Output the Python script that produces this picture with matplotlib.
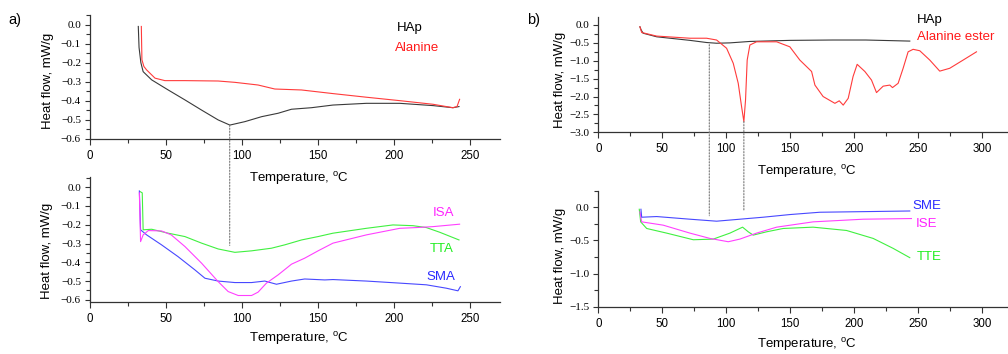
import matplotlib
matplotlib.use("Agg")
import matplotlib.pyplot as plt
from matplotlib.ticker import MultipleLocator, FuncFormatter
from matplotlib.patches import ConnectionPatch

plt.rcParams['font.family'] = ['Liberation Sans', 'DejaVu Sans']
plt.rcParams['mathtext.fontset'] = 'custom'
plt.rcParams['mathtext.rm'] = 'Liberation Sans'

# ---------------- data: panel a) top ----------------
hap_a_T = [31.8, 32.3, 33.5, 35.0, 40.6, 51.5, 62.5, 73.4, 84.4, 92.1, 102.0, 113.0, 123.9,
           132.7, 145.8, 160.0, 182.0, 204.0, 226.0, 239.0, 243.0]
hap_a_V = [-0.01, -0.12, -0.20, -0.247, -0.29, -0.343, -0.395, -0.448, -0.50, -0.527, -0.509,
           -0.483, -0.465, -0.444, -0.436, -0.422, -0.413, -0.413, -0.425, -0.436, -0.43]
ala_T = [33.8, 34.0, 34.2, 35.5, 37.3, 42.8, 49.3, 62.5, 84.4, 95.4, 110.7, 121.7, 139.3,
         160.0, 182.0, 204.0, 225.9, 239.0, 241.7, 243.4]
ala_V = [-0.01, -0.10, -0.185, -0.22, -0.238, -0.281, -0.294, -0.294, -0.296, -0.303, -0.317,
         -0.338, -0.343, -0.362, -0.381, -0.399, -0.418, -0.436, -0.43, -0.392]

# ---------------- data: panel a) bottom ----------------
isa_T = [32.5, 33.3, 35.0, 38.4, 47.1, 53.5, 62.5, 73.5, 84.4, 91.0, 97.6, 106.4, 110.7,
         116.2, 123.9, 132.7, 141.4, 150.2, 160.0, 182.0, 204.0, 215.0, 225.9, 243.4]
isa_V = [-0.03, -0.29, -0.254, -0.231, -0.233, -0.254, -0.316, -0.405, -0.503, -0.556, -0.577,
         -0.577, -0.559, -0.511, -0.467, -0.41, -0.378, -0.339, -0.298, -0.254, -0.219, -0.215,
         -0.21, -0.197]
tta_T = [32.9, 34.4, 35.0, 40.6, 51.5, 62.5, 73.5, 84.4, 95.4, 106.4, 119.5, 128.3, 139.3,
         150.2, 160.0, 182.0, 199.5, 212.7, 221.5, 230.3, 243.0]
tta_V = [-0.023, -0.03, -0.227, -0.224, -0.245, -0.263, -0.298, -0.329, -0.347, -0.339, -0.325,
         -0.307, -0.281, -0.263, -0.245, -0.219, -0.201, -0.205, -0.215, -0.24, -0.281]
sma_T = [32.5, 33.3, 37.3, 47.1, 58.0, 69.0, 75.7, 84.4, 95.4, 106.4, 115.1, 122.8, 132.7,
         141.4, 154.6, 160.0, 182.0, 204.0, 221.5, 234.6, 242.3, 243.9]
sma_V = [-0.02, -0.227, -0.254, -0.307, -0.37, -0.44, -0.485, -0.50, -0.508, -0.508, -0.50,
         -0.517, -0.50, -0.489, -0.494, -0.492, -0.50, -0.511, -0.52, -0.538, -0.552, -0.53]

# ---------------- data: panel b) top ----------------
hap_b_T = [32.5, 33.5, 35.0, 45.6, 71.6, 84.6, 92.4, 102.8, 118.4, 149.6, 183.0, 209.0, 243.3]
hap_b_V = [-0.05, -0.14, -0.23, -0.33, -0.43, -0.49, -0.51, -0.50, -0.46, -0.43, -0.42, -0.42, -0.45]
est_T = [32.5, 33.9, 45.6, 71.6, 84.6, 92.4, 100.2, 105.4, 109.3, 111.9, 113.7, 115.0, 116.3,
         118.4, 123.6, 139.3, 149.6, 157.4, 166.6, 169.2, 175.6, 184.8, 188.2, 191.3, 195.2,
         199.0, 202.2, 208.2, 213.4, 217.3, 222.5, 227.7, 229.8, 234.2, 238.1, 242.0, 245.9,
         251.1, 258.9, 266.7, 274.5, 285.0, 295.4]
est_V = [-0.05, -0.21, -0.31, -0.37, -0.37, -0.42, -0.65, -1.07, -1.63, -2.28, -2.70, -2.10,
         -0.98, -0.56, -0.47, -0.47, -0.61, -0.98, -1.30, -1.68, -2.0, -2.19, -2.12, -2.24,
         -2.05, -1.44, -1.10, -1.30, -1.54, -1.89, -1.71, -1.68, -1.75, -1.63, -1.21, -0.75,
         -0.68, -0.72, -0.98, -1.29, -1.21, -0.98, -0.75]

# ---------------- data: panel b) bottom ----------------
sme_T = [33.3, 33.9, 45.6, 71.6, 92.4, 110.6, 128.8, 149.6, 173.0, 206.9, 243.3]
sme_V = [-0.03, -0.15, -0.14, -0.18, -0.21, -0.18, -0.15, -0.11, -0.075, -0.066, -0.056]
ise_T = [32.5, 33.9, 50.7, 71.6, 87.2, 101.5, 110.6, 123.6, 139.3, 167.8, 206.9, 244.6]
ise_V = [-0.07, -0.22, -0.27, -0.39, -0.47, -0.52, -0.48, -0.39, -0.30, -0.22, -0.18, -0.17]
tte_T = [32.0, 33.1, 37.8, 53.4, 74.2, 89.8, 102.8, 112.7, 117.1, 121.0, 131.5, 144.4, 167.8,
         193.9, 214.7, 230.3, 243.3]
tte_V = [-0.03, -0.22, -0.32, -0.39, -0.49, -0.48, -0.39, -0.30, -0.37, -0.42, -0.37, -0.32,
         -0.30, -0.35, -0.47, -0.62, -0.76]

C_HAP = '#3a3a3a'
C_RED = '#ff3b3b'
C_MAG = '#ff40ff'
C_GRN = '#40f040'
C_BLU = '#4848ff'

W, H = 1008, 354
fig = plt.figure(figsize=(W / 100, H / 100), dpi=100)


def yfmt(v, pos):
    s = '%.1f' % v
    if s == '-0.0':
        s = '0.0'
    return s.replace('-', '\u2212')


def make_ax(left, right, bottom, top, xlim, ylim, ymaj, ymin):
    ax = fig.add_axes([left / W, 1 - bottom / H, (right - left) / W, (bottom - top) / H])
    ax.patch.set_alpha(0)
    ax.set_xlim(*xlim)
    ax.set_ylim(*ylim)
    for s in ('top', 'right'):
        ax.spines[s].set_visible(False)
    for s in ('left', 'bottom'):
        ax.spines[s].set_color('#333333')
        ax.spines[s].set_linewidth(0.9)
    ax.xaxis.set_major_locator(MultipleLocator(50))
    ax.xaxis.set_minor_locator(MultipleLocator(25))
    ax.yaxis.set_major_locator(MultipleLocator(ymaj))
    ax.yaxis.set_minor_locator(MultipleLocator(ymin))
    ax.yaxis.set_major_formatter(FuncFormatter(yfmt))
    ax.tick_params(axis='x', which='major', direction='out', length=4, width=0.8,
                   color='#333333', labelsize=8.3, pad=4)
    ax.tick_params(axis='x', which='minor', direction='out', length=3, width=0.8, color='#333333')
    ax.tick_params(axis='y', which='major', direction='out', length=3.5, width=0.8,
                   color='#333333', labelsize=8, pad=3, labelfontfamily='Liberation Serif')
    ax.tick_params(axis='y', which='minor', direction='out', length=3, width=0.8, color='#333333')
    return ax


def labels(ax, xl_y, yl_x, yl_y):
    ax.set_xlabel(r'Temperature, $^{\rm o}$C', fontsize=9.5)
    ax.xaxis.set_label_coords(0.51, xl_y)
    ax.xaxis.label.set_va('center')
    ax.set_ylabel('Heat flow, mW/g', fontsize=9.5)
    ax.yaxis.set_label_coords(yl_x, yl_y)
    ax.yaxis.label.set_va('center')


lw = 0.8
# a) top
ax1 = make_ax(90, 500, 139, 15, (0, 270), (-0.6, 0.05), 0.1, 0.05)
ax1.plot(hap_a_T, hap_a_V, color=C_HAP, lw=lw)
ax1.plot(ala_T, ala_V, color=C_RED, lw=lw)
ax1.text(202, -0.02, 'HAp', color='black', fontsize=9.5, va='center')
ax1.text(201, -0.125, 'Alanine', color='#ff1a1a', fontsize=9.5, va='center')
labels(ax1, -0.315, -0.102, 0.468)

# a) bottom
ax2 = make_ax(90, 500, 301.7, 176.7, (0, 270), (-0.61, 0.056), 0.1, 0.05)
ax2.plot(tta_T, tta_V, color=C_GRN, lw=lw)
ax2.plot(sma_T, sma_V, color=C_BLU, lw=lw)
ax2.plot(isa_T, isa_V, color=C_MAG, lw=lw)
ax2.text(225.7, -0.137, 'ISA', color='#ff22ff', fontsize=9.5, va='center')
ax2.text(223.7, -0.329, 'TTA', color='#22ee22', fontsize=9.5, va='center')
ax2.text(221.7, -0.478, 'SMA', color='#2a2aff', fontsize=9.5, va='center')
labels(ax2, -0.298, -0.105, 0.41)

# b) top
ax3 = make_ax(598.3, 1006.7, 132.3, 17.3, (0, 319), (-3.0, 0.215), 0.5, 0.25)
ax3.plot(hap_b_T, hap_b_V, color=C_HAP, lw=lw)
ax3.plot(est_T, est_V, color=C_RED, lw=lw)
ax3.text(248.8, 0.14, 'HAp', color='black', fontsize=9.5, va='center')
ax3.text(248.8, -0.34, 'Alanine ester', color='#ff1a1a', fontsize=9.5, va='center')
labels(ax3, -0.345, -0.094, 0.455)

# b) bottom
ax4 = make_ax(598.3, 1006.7, 306.7, 190.7, (0, 319), (-1.5, 0.25), 0.5, 0.25)
ax4.plot(tte_T, tte_V, color=C_GRN, lw=lw)
ax4.plot(ise_T, ise_V, color=C_MAG, lw=lw)
ax4.plot(sme_T, sme_V, color=C_BLU, lw=lw)
ax4.text(245.6, 0.024, 'SME', color='#2a2aff', fontsize=9.5, va='center')
ax4.text(248.0, -0.256, 'ISE', color='#ff22ff', fontsize=9.5, va='center')
ax4.text(249.0, -0.754, 'TTE', color='#22ee22', fontsize=9.5, va='center')
labels(ax4, -0.33, -0.094, 0.44)

# dotted guide lines across panels
guides = [(ax1, ax2, 92.0, -0.527, -0.31),
          (ax3, ax4, 86.7, -0.55, -0.127),
          (ax3, ax4, 113.7, -2.70, -0.056)]
for a_top, a_bot, t, v0, v1 in guides:
    cp = ConnectionPatch(xyA=(t, v0), coordsA=a_top.transData,
                         xyB=(t, v1), coordsB=a_bot.transData,
                         color='#777777', lw=0.8, linestyle=(0, (1.2, 1.5)))
    fig.add_artist(cp)

fig.text(8 / W, 1 - 20 / H, 'a)', fontsize=10.5, va='center', ha='left')
fig.text(527 / W, 1 - 20 / H, 'b)', fontsize=10.5, va='center', ha='left')

fig.savefig('out.png', dpi=100)
